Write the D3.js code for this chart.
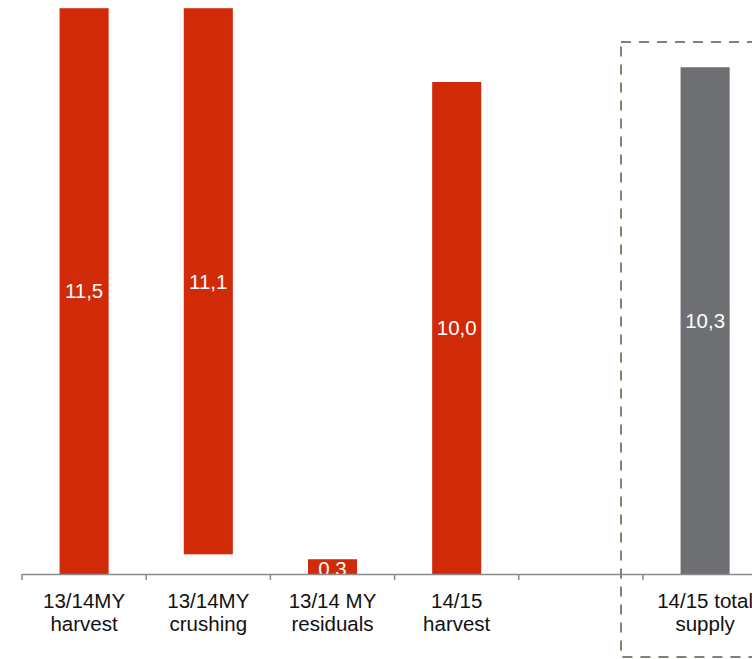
<!DOCTYPE html>
<html><head><meta charset="utf-8">
<script src="https://cdn.jsdelivr.net/npm/d3@7"></script>
<style>html,body{margin:0;padding:0;background:#fff;overflow:hidden}</style>
</head><body>
<svg id="c" width="752" height="659"></svg>
<script>
const categories = ["13/14MY harvest", "13/14MY crushing", "13/14 MY residuals", "14/15 harvest", "", "14/15 total supply"];
const tickLines = [["13/14MY","harvest"],["13/14MY","crushing"],["13/14 MY","residuals"],["14/15","harvest"],[],["14/15 total","supply"]];
const bases = [0, 0.4, 0, 0, null, 0];
const values = [11.5, 11.1, 0.3, 10.0, null, 10.3];
const valueLabels = ["11,5", "11,1", "0,3", "10,0", "", "10,3"];
const barKinds = ["red", "red", "red", "red", "none", "gray"];

const colors = {red: "#d12a08", gray: "#6e6f73"};
const svg = d3.select("#c");
const font = "'Liberation Sans', Arial, sans-serif";

const x = d3.scaleBand().domain(categories).range([22, 22 + 124.2 * categories.length]).padding(0);
const y = d3.scaleLinear().domain([0, 10]).range([574, 82]);
const barW = x.bandwidth() * 0.395;
const last = categories[5];

svg.append("defs").append("clipPath").attr("id", "plotClip")
  .append("rect").attr("x", 0).attr("y", 0).attr("width", 752).attr("height", 574.5);

const data = categories.map((c, i) => ({c, base: bases[i], v: values[i], label: valueLabels[i], kind: barKinds[i]}))
  .filter(d => d.kind !== "none");

svg.selectAll("rect.bar").data(data).enter().append("rect")
  .attr("class", "bar")
  .attr("x", d => x(d.c) + x.bandwidth() / 2 - barW / 2)
  .attr("width", barW)
  .attr("y", d => y(d.base + d.v))
  .attr("height", d => y(d.base) - y(d.base + d.v))
  .attr("fill", d => colors[d.kind]);

svg.append("g").attr("clip-path", "url(#plotClip)")
  .selectAll("text.val").data(data).enter().append("text")
  .attr("class", "val")
  .attr("x", d => x(d.c) + x.bandwidth() / 2)
  .attr("y", d => (y(d.base) + y(d.base + d.v)) / 2)
  .attr("dy", d => d.v < 1 ? "0.44em" : "0.36em")
  .attr("text-anchor", "middle")
  .attr("fill", "#fff")
  .attr("font-family", font).attr("font-size", 20.5)
  .text(d => d.label);

// dashed highlight box around total supply
svg.append("rect")
  .attr("x", x(last) - 22).attr("y", 42)
  .attr("width", x.bandwidth() + 60).attr("height", 615)
  .attr("fill", "none").attr("stroke", "#7d876b").attr("stroke-width", 2)
  .attr("stroke-dasharray", "10,8");

// axis
const axisG = svg.append("g");
axisG.append("line").attr("x1", 22).attr("x2", 22 + 124.2 * categories.length)
  .attr("y1", 574.5).attr("y2", 574.5).attr("stroke", "#8a8a8a").attr("stroke-width", 1.5);
const tickXs = categories.map(c => x(c)).concat([x(categories[categories.length - 1]) + x.bandwidth()]);
axisG.selectAll("line.tick").data(tickXs).enter().append("line")
  .attr("x1", d => d).attr("x2", d => d).attr("y1", 574).attr("y2", 580)
  .attr("stroke", "#8a8a8a").attr("stroke-width", 1.5);

categories.forEach((c, i) => {
  const t = svg.append("text")
    .attr("x", x(c) + x.bandwidth() / 2)
    .attr("text-anchor", "middle")
    .attr("font-family", font).attr("font-size", 20.5).attr("fill", "#111");
  tickLines[i].forEach((ln, j) => {
    t.append("tspan").attr("x", x(c) + x.bandwidth() / 2).attr("y", 608 + j * 23).text(ln);
  });
});
</script>
</body></html>
